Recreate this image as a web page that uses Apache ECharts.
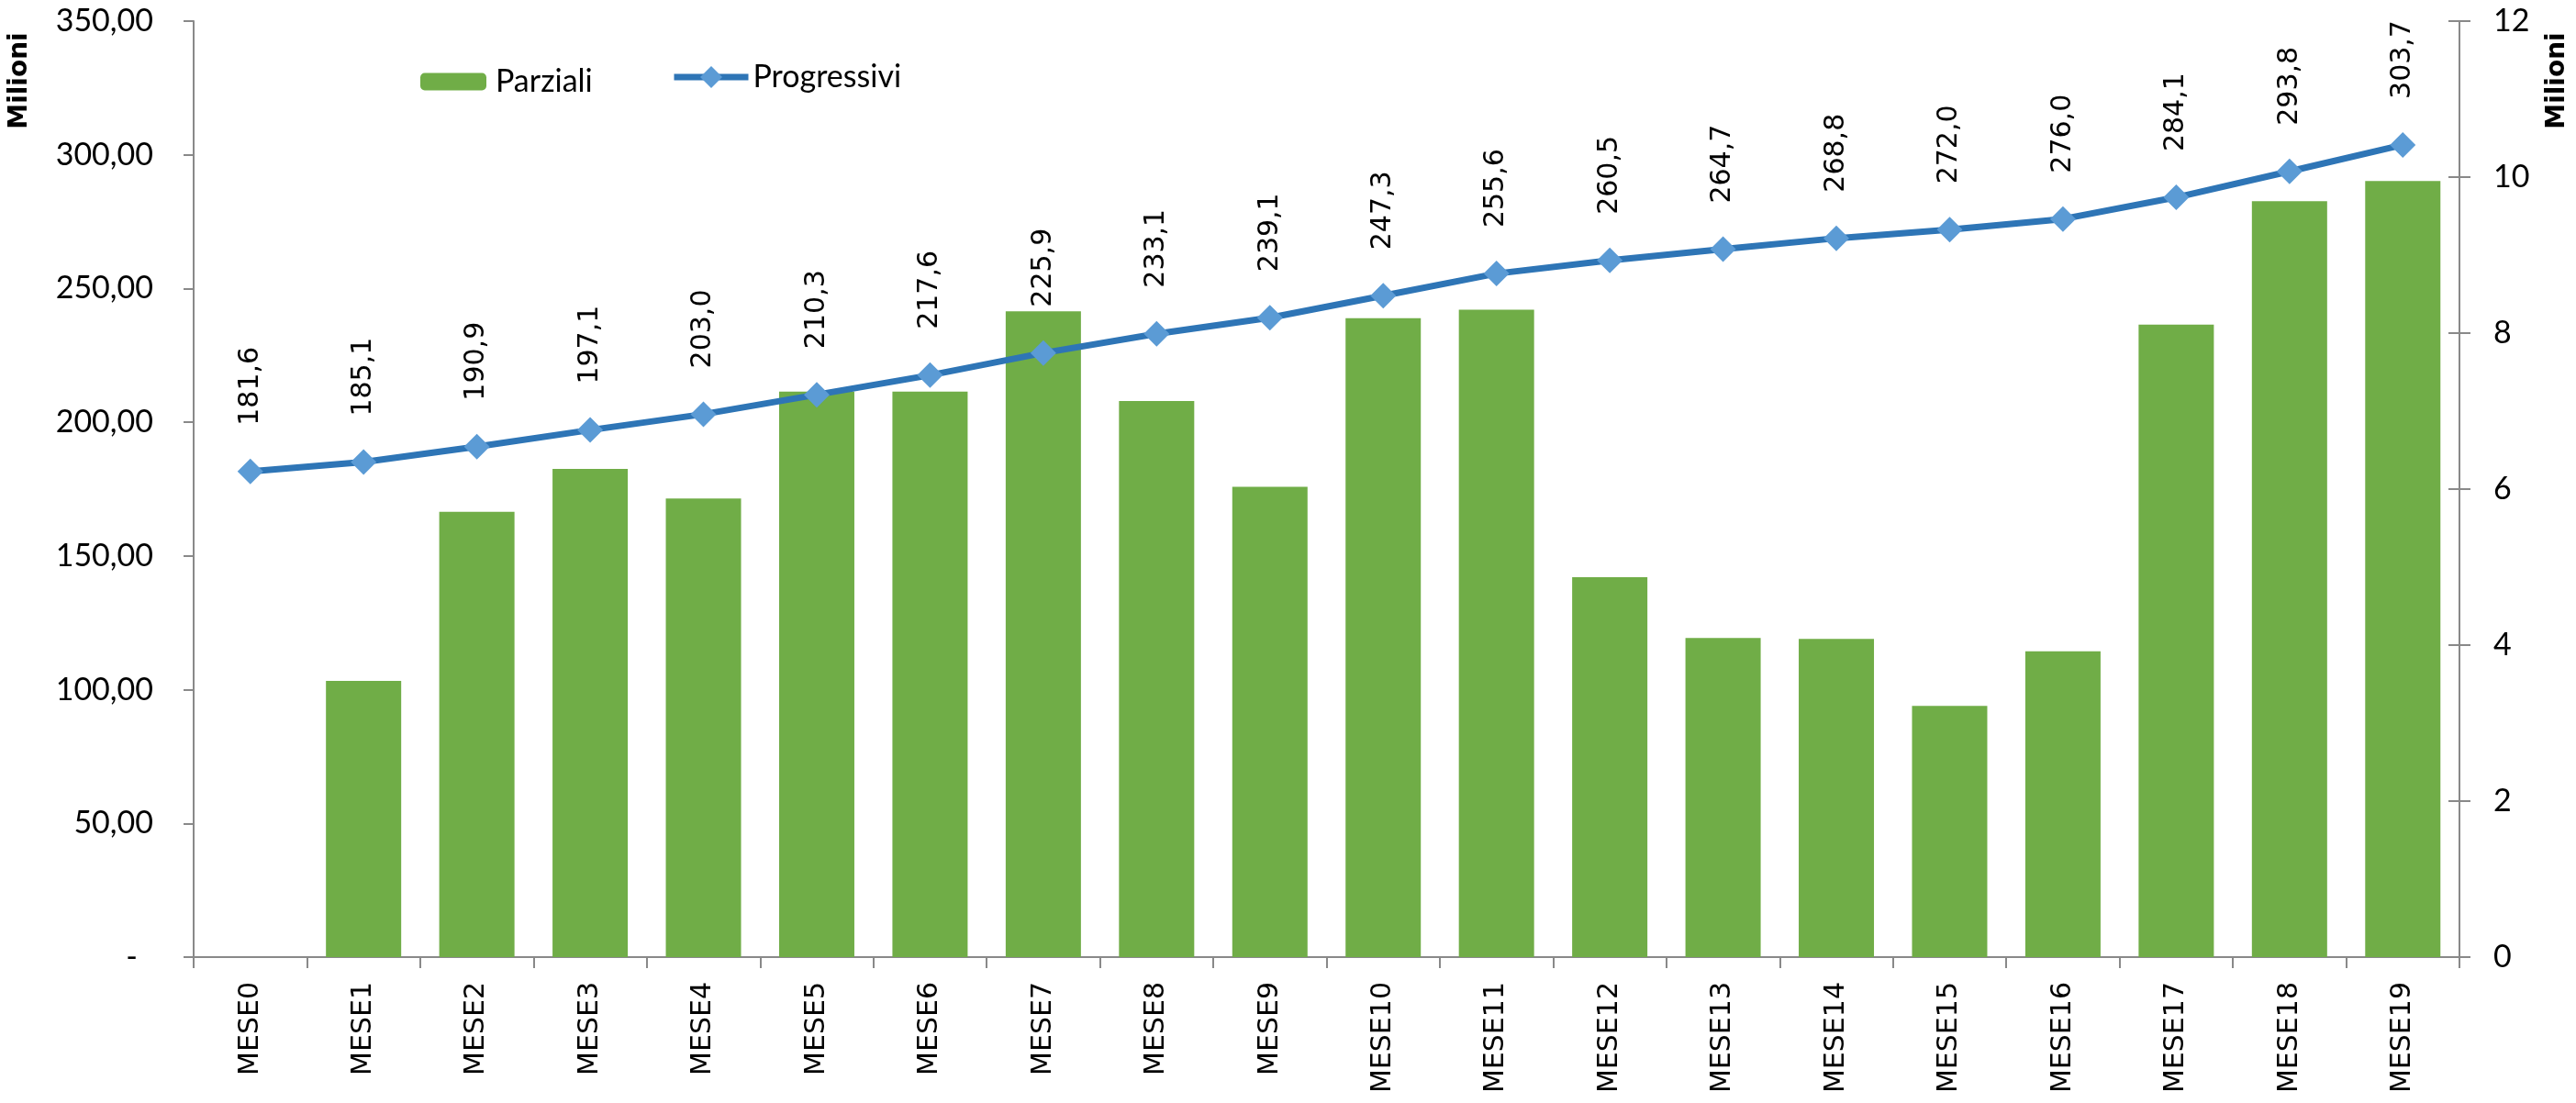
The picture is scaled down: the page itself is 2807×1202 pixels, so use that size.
<!DOCTYPE html>
<html>
<head>
<meta charset="utf-8">
<script src="https://cdn.jsdelivr.net/npm/echarts@6/dist/echarts.min.js"></script>
<style>
html,body{margin:0;padding:0;background:#fff;}
#c{width:2807px;height:1202px;}
</style>
</head>
<body>
<div id="c"></div>
<script>
const categories = ['MESE0','MESE1','MESE2','MESE3','MESE4','MESE5','MESE6','MESE7','MESE8','MESE9','MESE10','MESE11','MESE12','MESE13','MESE14','MESE15','MESE16','MESE17','MESE18','MESE19'];
const parziali = [0, 3.54, 5.71, 6.26, 5.88, 7.25, 7.25, 8.28, 7.13, 6.03, 8.19, 8.30, 4.87, 4.09, 4.08, 3.22, 3.92, 8.11, 9.69, 9.95];
const progressivi = [181.6, 185.1, 190.9, 197.1, 203.0, 210.3, 217.6, 225.9, 233.1, 239.1, 247.3, 255.6, 260.5, 264.7, 268.8, 272.0, 276.0, 284.1, 293.8, 303.7];
const leftTicks = {min: 0, max: 350, interval: 50};
const rightTicks = {min: 0, max: 12, interval: 2};
const axisTitle = 'Milioni';

const axisGray = '#898989';
const tickFont = 'Lato';
const labFont = 'DejaVu Sans';

const chart = echarts.init(document.getElementById('c'), null, {renderer: 'canvas'});
chart.setOption({
  animation: false,
  backgroundColor: '#fff',
  grid: {left: 211, right: 127, top: 23, bottom: 159, containLabel: false},
  legend: [
    {
      data: ['Parziali'],
      left: 458, top: 72, padding: 0,
      itemWidth: 72, itemHeight: 19,
      textStyle: {fontFamily: tickFont, fontSize: 34, color: '#000', padding: [0, 0, 0, 5]}
    },
    {
      data: [{name: 'Progressivi', lineStyle: {width: 7}}],
      left: 731, top: 67, padding: 0,
      itemWidth: 81, itemHeight: 30,
      lineStyle: {width: 7},
      textStyle: {fontFamily: tickFont, fontSize: 34, color: '#000', padding: [0, 0, 0, 0]}
    }
  ],
  xAxis: {
    type: 'category',
    data: categories,
    axisLine: {lineStyle: {color: axisGray, width: 2}},
    axisTick: {show: true, length: 12, lineStyle: {color: axisGray, width: 2}},
    axisLabel: {rotate: 90, margin: 27, fontFamily: labFont, fontSize: 30, color: '#000'}
  },
  yAxis: [
    {
      type: 'value', position: 'left',
      min: leftTicks.min, max: leftTicks.max, interval: leftTicks.interval,
      axisLine: {show: true, lineStyle: {color: axisGray, width: 2}},
      axisTick: {show: true, length: 11, lineStyle: {color: axisGray, width: 2}},
      splitLine: {show: false},
      axisLabel: {
        margin: 44, fontFamily: tickFont, fontSize: 34, color: '#000',
        formatter: v => v === 0 ? '-\u2002' : v.toFixed(2).replace('.', ',')
      }
    },
    {
      type: 'value', position: 'right',
      min: rightTicks.min, max: rightTicks.max, interval: rightTicks.interval,
      axisLine: {show: true, lineStyle: {color: axisGray, width: 2}},
      axisTick: {show: true, length: 12, lineStyle: {color: axisGray, width: 2}},
      splitLine: {show: false},
      axisLabel: {margin: 37, fontFamily: tickFont, fontSize: 34, color: '#000'}
    },
    {
      type: 'value', position: 'right',
      min: rightTicks.min, max: rightTicks.max, interval: rightTicks.interval,
      axisLine: {show: false},
      axisTick: {show: true, inside: true, length: 12, lineStyle: {color: axisGray, width: 2}},
      splitLine: {show: false},
      axisLabel: {show: false}
    }
  ],
  graphic: [
    {type: 'text', x: 22, y: 88, rotation: Math.PI / 2,
     style: {text: axisTitle, font: 'bold 28px "DejaVu Sans"', fill: '#000', align: 'center', verticalAlign: 'middle'}},
    {type: 'text', x: 2787, y: 88, rotation: Math.PI / 2,
     style: {text: axisTitle, font: 'bold 28px "DejaVu Sans"', fill: '#000', align: 'center', verticalAlign: 'middle'}}
  ],
  series: [
    {
      name: 'Parziali', type: 'bar', yAxisIndex: 1,
      data: parziali, barWidth: 82,
      itemStyle: {color: '#70AD47'}
    },
    {
      name: 'Progressivi', type: 'line', yAxisIndex: 0,
      data: progressivi, z: 5,
      symbol: 'diamond', symbolSize: 28,
      lineStyle: {color: '#2E75B6', width: 7},
      itemStyle: {color: '#5B9BD5'},
      label: {
        show: true, position: 'top', rotate: 90, align: 'left', verticalAlign: 'middle', distance: 36,
        fontFamily: labFont, fontSize: 30, color: '#000',
        formatter: p => p.value.toFixed(1).replace('.', ',')
      }
    }
  ]
});
</script>
</body>
</html>
